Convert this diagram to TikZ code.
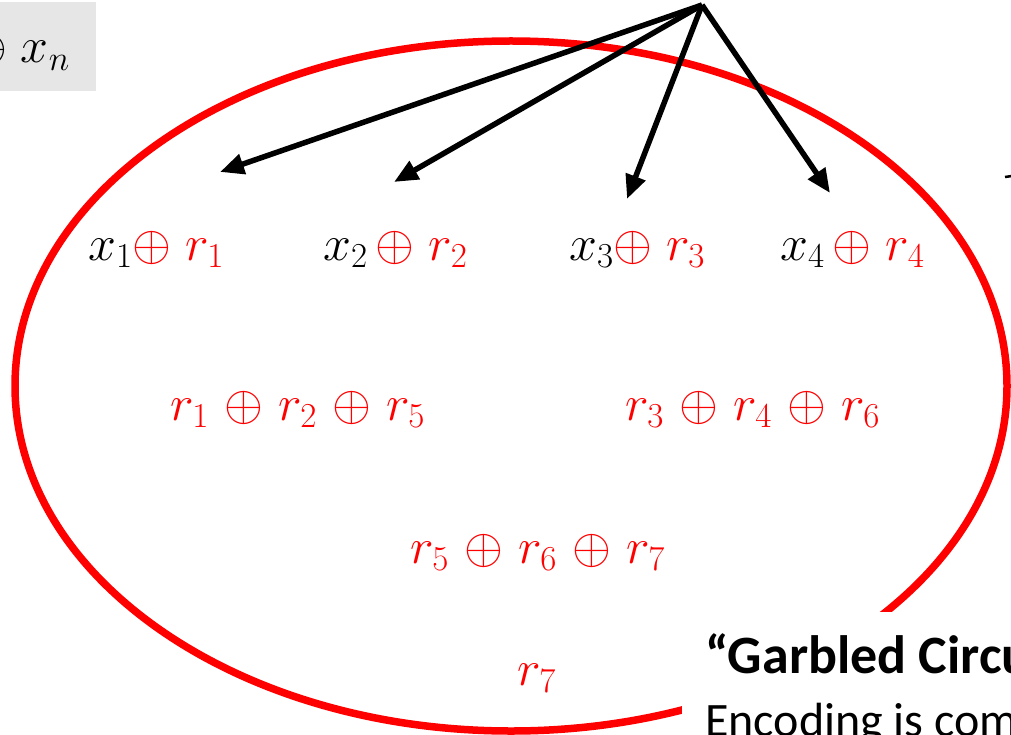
\RequirePackage{fix-cm}
\documentclass[tikz,border=0pt]{standalone}
\usepackage{fontspec}
\newfontfamily\calibri{Carlito}
\usetikzlibrary{arrows.meta}
\definecolor{boxgray}{RGB}{230,230,230}
\newcommand\xo{\mskip1.5mu\oplus\mskip1.5mu}
\begin{document}
\begin{tikzpicture}[x=1pt,y=-1pt,
  ring/.style={draw=red,line width=7.5pt},
  arr/.style={draw=black,line width=5.5pt,-{Triangle[length=24pt,width=20pt]}},
  lbl/.style={inner sep=0pt,anchor=base west,font=\fontsize{50}{60}\selectfont},
  txt/.style={inner sep=0pt,anchor=base west,font=\calibri\fontsize{54}{64}\selectfont},
]
\useasboundingbox (0,0) rectangle (1011,735);
\clip (0,0) rectangle (1011,735);
% top-left grey box
\fill[boxgray] (0,2) rectangle (96,91);
\node[lbl] (xn) at (-32,63) {$\oplus\mskip5mu x_n$};
% ellipse
\draw[ring] (511,386) ellipse [x radius=496pt, y radius=345pt];
% labels
\node[lbl] (a1) at (88,260) {$x_1{\color{red}{\oplus}\;r_1}$};
\node[lbl] (a2) at (323,260) {$x_2\,{\color{red}{\oplus}\;r_2}$};
\node[lbl] (a3) at (569,260) {$x_3{\color{red}{\oplus}\;r_3}$};
\node[lbl] (a4) at (780,260) {$x_4\,{\color{red}{\oplus}\;r_4}$};
\node[lbl,text=red] (b1) at (170,420) {$r_1\xo r_2\xo r_5$};
\node[lbl,text=red] (b2) at (625,420) {$r_3\xo r_4\xo r_6$};
\node[lbl,text=red] (c1) at (410,563) {$r_5\xo r_6\xo r_7$};
\node[lbl,text=red] (d1) at (517,685) {$r_7$};
% arrows
\coordinate (src) at (702,5);
\coordinate (t1) at (220,172);
\coordinate (t2) at (394,182);
\coordinate (t3) at (627,199);
\coordinate (t4) at (830,193);
\draw[arr] (src) -- (t1);
\draw[arr] (src) -- (t2);
\draw[arr] (src) -- (t3);
\draw[arr] (src) -- (t4);
% small clipped mark at right edge
\draw[line width=2.5pt] (1005,177) -- (1012,176);
% text box
\fill[white] (682,612) rectangle (1011,735);
\node[txt,font=\calibri\bfseries\fontsize{54}{64}\selectfont] (gc) at (705,673) {“Garbled Circu};
\node[txt,font=\calibri\fontsize{48}{58}\selectfont] (enc) at (705,736) {Encoding is com};
\end{tikzpicture}
\end{document}
